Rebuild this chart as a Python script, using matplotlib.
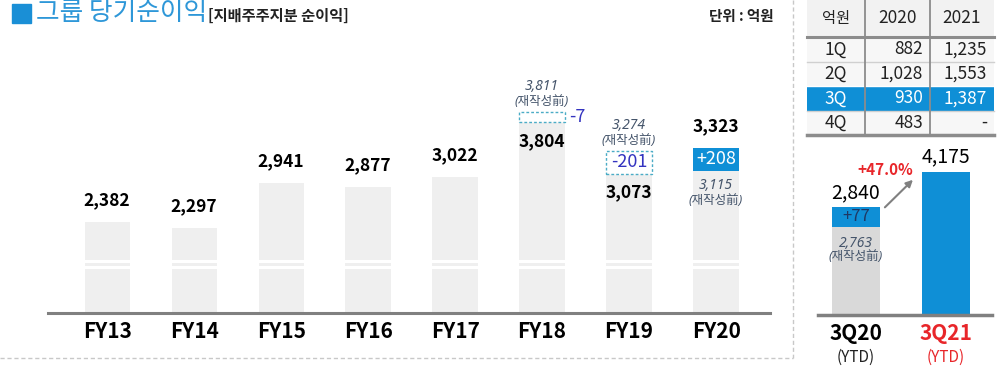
import numpy as np
import matplotlib
matplotlib.use('Agg')
import matplotlib.pyplot as plt
from matplotlib.patches import Rectangle, FancyArrowPatch

plt.rcParams['font.family'] = ['Noto Sans CJK KR', 'DejaVu Sans']

# ---- data (억원) ----
years = ['FY13', 'FY14', 'FY15', 'FY16', 'FY17', 'FY18', 'FY19', 'FY20']
profit = [2382, 2297, 2941, 2877, 3022, 3804, 3073, 3323]
# before restatement (재작성前); None where there is none
profit_orig = [None, None, None, None, None, 3811, 3274, 3115]

quarters = ['1Q', '2Q', '3Q', '4Q']
q_2020 = [882, 1028, 930, 483]
q_2021 = [1235, 1553, 1387, None]
table_years = ['2020', '2021']
highlight_q = '3Q'

ytd_labels = ['3Q20', '3Q21']
ytd_values = [2840, 4175]
ytd_orig = 2763
ytd_growth = 47.0

# ---- style ----
BLUE = '#0f8fd6'
TITLE_BLUE = '#2e97d8'
BAR_GRAY = '#efefef'
ITAL = '#44546a'
DIFF = '#3434c0'
DASH = '#4bacc6'
RED = '#e8262a'
PX = 0.72  # pixels -> points at 100 dpi


def fmt(v):
    return f'{v:,}'


def put(ax, x, y, s, dy=0, dx=0, **kw):
    ha = kw.pop('ha', 'center')
    ax.annotate(s, (x, y), xytext=(dx * PX, dy * PX), textcoords='offset points',
                ha=ha, va='center', **kw)


ital = dict(family=['Noto Sans', 'Noto Sans CJK KR'], style='italic', color=ITAL)

fig = plt.figure(figsize=(10, 3.7), dpi=100)

# overlay in pixel coordinates for title, separators and table
ov = fig.add_axes([0, 0, 1, 1], zorder=0)
ov.set_xlim(0, 1000)
ov.set_ylim(370, 0)
ov.axis('off')

ov.add_patch(Rectangle((12, 4), 19, 19, color='#1a8fd6'))
ov.text(36, 13, '그룹 당기순이익', fontsize=18.5, color=TITLE_BLUE, va='center', ha='left')
ov.text(208, 16, '[지배주주지분 순이익]', fontsize=11, fontweight='bold', color='#222222',
        va='center', ha='left')
ov.text(774, 16, '단위 : 억원', fontsize=10.5, fontweight='bold', color='#222222',
        va='center', ha='right')

ov.plot([793, 793], [0, 358], color='#c8c8c8', lw=1, ls=(0, (3, 2)))
ov.plot([0, 793], [358, 358], color='#c8c8c8', lw=1, ls=(0, (3, 2)))

# table
cols = [807, 865, 930, 994]
hdr_bottom = 37
row_h = 24.5
ov.add_patch(Rectangle((cols[0], 0), cols[-1] - cols[0], hdr_bottom, color='#f2f2f2', lw=0))
ov.text((cols[0] + cols[1]) / 2, 18, '억원', fontsize=11, ha='center', va='center', color='#222222')
for j, yr in enumerate(table_years):
    ov.text((cols[j + 1] + cols[j + 2]) / 2, 18, yr, fontsize=12.5, ha='center', va='center',
            color='#222222')
for i, q in enumerate(quarters):
    y0 = hdr_bottom + i * row_h
    hl = q == highlight_q
    ov.add_patch(Rectangle((cols[0], y0), cols[-1] - cols[0], row_h,
                           color=BLUE if hl else '#f7f7f7', lw=0))
    if i > 0:
        ov.plot([cols[0], cols[-1]], [y0, y0], color='#d0d0d0' if not hl else 'white', lw=1)
    tc = 'white' if hl else '#222222'
    yc = y0 + row_h / 2
    ov.text((cols[0] + cols[1]) / 2, yc, q, fontsize=12.5, ha='center', va='center', color=tc)
    ov.text(cols[2] - 7, yc, fmt(q_2020[i]), fontsize=12.5, ha='right', va='center', color=tc)
    v21 = q_2021[i]
    ov.text(cols[3] - 7, yc, fmt(v21) if v21 is not None else '-', fontsize=12.5,
            ha='right', va='center', color=tc)
tbl_bottom = hdr_bottom + len(quarters) * row_h
for cx in cols[1:3]:
    ov.plot([cx, cx], [0, tbl_bottom], color='#8c8c8c', lw=1.3)
ov.plot([cols[0], cols[-1]], [hdr_bottom, hdr_bottom], color='#8c8c8c', lw=2.2)
ov.plot([cols[0], cols[-1]], [tbl_bottom, tbl_bottom], color='#8c8c8c', lw=2.5)

# ---- main chart ----
ax = fig.add_axes([0.048, 0.154, 0.722, 0.738], zorder=2)
ax.patch.set_alpha(0)
y_lo, scale = 1080, 14.3  # value at baseline, value per pixel
ax.set_ylim(y_lo, y_lo + 273 * scale)
ax.set_xlim(-0.68, 7.62)
w = 0.52
x = np.arange(len(years))
lower = [p if o is None else min(p, o) for p, o in zip(profit, profit_orig)]
ax.bar(x, lower, width=w, color=BAR_GRAY, zorder=1)
# axis break
ax.axhspan(1709, 1752, color='white', zorder=2, lw=0)
ax.axhspan(1795, 1838, color='white', zorder=2, lw=0)

for i in x:
    p, o = profit[i], profit_orig[i]
    if o is None:
        put(ax, i, p, fmt(p), 22, fontsize=12.5, fontweight='bold')
        continue
    diff = p - o
    lo = lower[i]
    inside = abs(diff) > 50
    box_h = max(abs(diff), 330 if inside else 150)
    if diff < 0:
        ax.add_patch(Rectangle((i - w / 2, lo), w, box_h, facecolor='white', edgecolor=DASH,
                               ls=(0, (2, 1.5)), lw=1, zorder=3))
        if inside:
            put(ax, i, lo + box_h / 2, f'{diff:,}', fontsize=13, color=DIFF, zorder=4)
        else:
            put(ax, i + w / 2, lo + box_h / 2, f'{diff:,}', dx=13, fontsize=13, color=DIFF)
        put(ax, i, lo + box_h, fmt(o), 25, fontsize=10, **ital)
        put(ax, i, lo + box_h, '(재작성前)', 10, fontsize=9, **ital)
        put(ax, i, lo, fmt(p), -19, fontsize=12.5, fontweight='bold', zorder=4)
    else:
        ax.add_patch(Rectangle((i - w / 2, lo), w, box_h, facecolor=BLUE, lw=0, zorder=3))
        put(ax, i, lo + box_h / 2, f'+{diff:,}', fontsize=13, color='white', zorder=4)
        put(ax, i, lo + box_h, fmt(p), 21, fontsize=12.5, fontweight='bold')
        put(ax, i, lo, fmt(o), -15, fontsize=10, **ital)
        put(ax, i, lo, '(재작성前)', -30, fontsize=9, **ital)

ax.set_xticks(x, years, fontsize=15, fontweight='bold')
ax.tick_params(axis='x', length=0, pad=6)
ax.set_yticks([])
for s in ['left', 'right', 'top']:
    ax.spines[s].set_visible(False)
ax.spines['bottom'].set_color('#808080')
ax.spines['bottom'].set_linewidth(2.2)

# ---- YTD chart ----
ax2 = fig.add_axes([0.818, 0.1486, 0.174, 0.473], zorder=2)
ax2.patch.set_alpha(0)
y2_lo, scale2 = 500, 25.7
ax2.set_ylim(y2_lo, y2_lo + 175 * scale2)
ax2.set_xlim(-0.42, 1.51)
w2 = 0.53
box2 = max(ytd_values[0] - ytd_orig, 20 * scale2)
ax2.bar([0], [ytd_orig], width=w2, color='#d9d9d9', zorder=1)
ax2.bar([0], [box2], bottom=ytd_orig, width=w2, color=BLUE, zorder=1)
ax2.bar([1], [ytd_values[1]], width=w2, color=BLUE, zorder=1)
top0 = ytd_orig + box2
put(ax2, 0, top0 - box2 / 2, f'+{ytd_values[0] - ytd_orig}', fontsize=12, color='#1f3864')
put(ax2, 0, top0, fmt(ytd_values[0]), 14, fontsize=14)
put(ax2, 1, ytd_values[1], fmt(ytd_values[1]), 15, fontsize=14)
put(ax2, 0, ytd_orig, fmt(ytd_orig), -17, fontsize=10, **ital)
put(ax2, 0, ytd_orig, '(재작성前)', -30, fontsize=9, **ital)

a_start = (0.30, top0 - 60)
a_end = (0.655, ytd_values[1] - 150)
ax2.add_patch(FancyArrowPatch(a_start, a_end, arrowstyle='-|>', mutation_scale=10,
                              color='#808080', lw=1.5, zorder=3))
put(ax2, a_end[0], a_end[1], f'+{ytd_growth:.1f}%', dy=8, dx=-2, ha='right',
    fontsize=11, fontweight='bold', color=RED)

ax2.set_xticks([0, 1], ytd_labels, fontsize=15, fontweight='bold')
ax2.get_xticklabels()[1].set_color(RED)
ax2.tick_params(axis='x', length=0, pad=6)
for i, c in enumerate(['#222222', RED]):
    ax2.annotate('(YTD)', (i, y2_lo), xytext=(0, -42 * PX), textcoords='offset points',
                 ha='center', va='center', fontsize=11, color=c)
ax2.set_yticks([])
for s in ['left', 'right', 'top']:
    ax2.spines[s].set_visible(False)
ax2.spines['bottom'].set_color('#808080')
ax2.spines['bottom'].set_linewidth(2.5)

fig.savefig('out.png', dpi=100)
